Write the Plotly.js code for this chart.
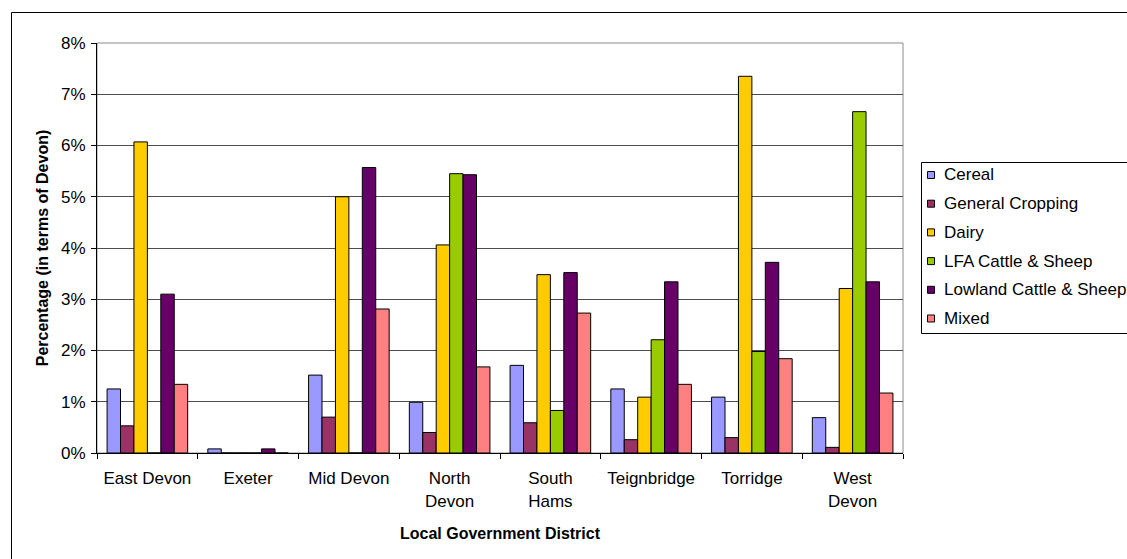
<!DOCTYPE html>
<html>
<head>
<meta charset="utf-8">
<script src="https://cdn.plot.ly/plotly-3.0.1.min.js"></script>
<style>
html,body{margin:0;padding:0;background:#fff;}
#chart{width:1127px;height:559px;}
</style>
</head>
<body>
<div id="chart"></div>
<script>
// Districts (category axis)
const districts = ["East Devon", "Exeter", "Mid Devon", "North<br>Devon", "South<br>Hams", "Teignbridge", "Torridge", "West<br>Devon"];

// Series values (fraction of Devon)
const cereal          = [0.0125, 0.0008, 0.0152, 0.0099, 0.0171, 0.0125, 0.0109, 0.0069];
const generalCropping = [0.0053, 0.0000, 0.0070, 0.0040, 0.0059, 0.0026, 0.0030, 0.0011];
const dairy           = [0.0607, 0.0000, 0.0500, 0.0406, 0.0348, 0.0109, 0.0735, 0.0321];
const lfaCattleSheep  = [0.0000, 0.0000, 0.0000, 0.0545, 0.0083, 0.0221, 0.0198, 0.0666];
const lowlandCattle   = [0.0310, 0.0008, 0.0557, 0.0543, 0.0352, 0.0334, 0.0372, 0.0334];
const mixed           = [0.0134, 0.0000, 0.0281, 0.0168, 0.0273, 0.0134, 0.0184, 0.0117];

const seriesNames  = ["Cereal", "General Cropping", "Dairy", "LFA Cattle & Sheep", "Lowland Cattle & Sheep", "Mixed"];
const seriesValues = [cereal, generalCropping, dairy, lfaCattleSheep, lowlandCattle, mixed];
const seriesColors = ["#9999FF", "#993366", "#FFCC00", "#99CC00", "#660066", "#FF8080"];

const FONT = "Liberation Sans, Arial, sans-serif";

const traces = seriesNames.map((name, i) => ({
  type: "bar",
  name: name,
  x: districts,
  y: seriesValues[i],
  marker: { color: seriesColors[i], line: { color: "#000000", width: 1 } },
  hoverinfo: "x+y+name"
}));

const L = 97, R = 903, T = 43, B = 453, W = 1127, H = 559;
const pw = R - L, ph = B - T;
const px = v => (v - L) / pw;
const py = v => (B - v) / ph;

// Legend drawn as a boxed key to the right of the plot
const legLeft = 921, legTop = 162, legBottom = 333;
const legFirst = 175, legStep = 28.7, symHalf = 3.5, symX = 931, textX = 942;

const shapes = [
  { type: "rect", xref: "paper", yref: "paper", x0: 0, x1: 1, y0: 0, y1: 1,
    line: { color: "#8c8c8c", width: 1 }, layer: "below" },
  { type: "rect", xref: "paper", yref: "paper", x0: px(11.5), x1: px(1140), y0: py(572), y1: py(12.5),
    line: { color: "#000000", width: 1 }, layer: "below" },
  { type: "rect", xref: "paper", yref: "paper", x0: px(legLeft + 0.5), x1: px(1140), y0: py(legBottom + 0.5), y1: py(legTop + 0.5),
    fillcolor: "#ffffff", line: { color: "#000000", width: 1 }, layer: "above" }
];
const annotations = [];
seriesNames.forEach((name, i) => {
  const cy = legFirst + i * legStep;
  shapes.push({ type: "rect", xref: "paper", yref: "paper",
    x0: px(symX - symHalf), x1: px(symX + symHalf), y0: py(cy + symHalf), y1: py(cy - symHalf),
    fillcolor: seriesColors[i], line: { color: "#000000", width: 1 }, layer: "above" });
  annotations.push({ xref: "paper", yref: "paper", x: px(textX), y: py(cy),
    xanchor: "left", yanchor: "middle", showarrow: false, text: name,
    font: { family: FONT, size: 17, color: "#000000" } });
});

const layout = {
  width: W, height: H,
  paper_bgcolor: "#ffffff",
  plot_bgcolor: "#ffffff",
  margin: { l: L, r: W - R, t: T, b: H - B, autoexpand: false },
  font: { family: FONT, size: 17, color: "#000000" },
  barmode: "group",
  bargap: 0.2,
  bargroupgap: 0,
  showlegend: false,
  xaxis: {
    type: "category",
    showline: true, linecolor: "#000000", linewidth: 1,
    ticks: "outside", tickson: "boundaries", ticklen: 5, tickcolor: "#000000",
    ticklabelstandoff: 10,
    showgrid: false,
    tickfont: { family: FONT, size: 17, color: "#000000" },
    title: { text: "<b>Local Government District</b>", font: { family: FONT, size: 16, color: "#000000" }, standoff: 18 }
  },
  yaxis: {
    range: [0, 0.08], dtick: 0.01, tick0: 0,
    tickformat: ".0%",
    showline: true, linecolor: "#000000", linewidth: 1,
    ticks: "outside", ticklen: 5, tickcolor: "#000000",
    ticklabelstandoff: 2,
    showgrid: true, gridcolor: "#4d4d4d", gridwidth: 1,
    zeroline: false,
    tickfont: { family: FONT, size: 17, color: "#000000" },
    title: { text: "<b>Percentage (in terms of Devon)</b>", font: { family: FONT, size: 16, color: "#000000" }, standoff: 8 }
  },
  shapes: shapes,
  annotations: annotations
};

Plotly.newPlot("chart", traces, layout, { displayModeBar: false, staticPlot: true });
</script>
</body>
</html>
